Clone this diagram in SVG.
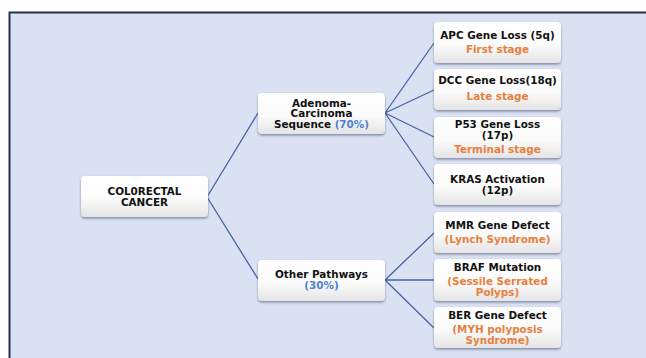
<svg xmlns="http://www.w3.org/2000/svg" width="646" height="358" viewBox="0 0 646 358">
<defs>
<linearGradient id="boxg" x1="0" y1="0" x2="0" y2="1">
<stop offset="0" stop-color="#ffffff"/>
<stop offset="0.55" stop-color="#fbfbfb"/>
<stop offset="1" stop-color="#e4e4e6"/>
</linearGradient>
<filter id="sh" x="-10%" y="-10%" width="120%" height="130%">
<feDropShadow dx="0" dy="1.5" stdDeviation="1.2" flood-color="#3a4560" flood-opacity="0.55"/>
</filter>
</defs>
<style>
.box{fill:url(#boxg);filter:url(#sh)}
.t{font-family:"DejaVu Sans",Verdana,sans-serif;font-weight:bold;font-size:10.4px;fill:#111;text-anchor:middle}
.o{fill:#e8803c}
.b{fill:#4f7fd4}
.c{fill:none;stroke:#4a62a6;stroke-width:1.3}
</style>
<rect x="0" y="0" width="646" height="358" fill="#ffffff"/>
<rect x="9.5" y="12.5" width="650" height="360" fill="#d9e1f3" stroke="#26334f" stroke-width="2"/>
<g id="connectors">
<path class="c" d="M207 197 L258 113 M207 197 L258 279"/>
<path class="c" d="M385 113 L434 43 M385 113 L434 90 M385 113 L434 137 M385 113 L434 184"/>
<path class="c" d="M385 280 L434 233 M385 280 L434 280 M385 280 L434 328"/>
</g>
<g id="colorectal">
<rect class="box" x="81" y="176" width="127" height="41" rx="4"/>
<text class="t" x="144.5" y="194.5">COL0RECTAL</text>
<text class="t" x="144.5" y="205.5">CANCER</text>
</g>
<g id="adenoma">
<rect class="box" x="258" y="93" width="127" height="41" rx="4"/>
<text class="t" x="321.5" y="106.5">Adenoma-</text>
<text class="t" x="321.5" y="117">Carcinoma</text>
<text class="t" x="321.5" y="127.5">Sequence <tspan class="b">(70%)</tspan></text>
</g>
<g id="other">
<rect class="box" x="258" y="260" width="127" height="41" rx="4"/>
<text class="t" x="321.5" y="277.5">Other Pathways</text>
<text class="t b" x="321.5" y="288.5">(30%)</text>
</g>
<g id="apc">
<rect class="box" x="434" y="22" width="127" height="41" rx="4"/>
<text class="t" x="497.5" y="38.5">APC Gene Loss (5q)</text>
<text class="t o" x="497.5" y="52.5">First stage</text>
</g>
<g id="dcc">
<rect class="box" x="434" y="69" width="127" height="41" rx="4"/>
<text class="t" x="497.5" y="83.5">DCC Gene Loss(18q)</text>
<text class="t o" x="497.5" y="99.5">Late stage</text>
</g>
<g id="p53">
<rect class="box" x="434" y="117" width="127" height="41" rx="4"/>
<text class="t" x="497.5" y="127.5">P53 Gene Loss</text>
<text class="t" x="497.5" y="138.5">(17p)</text>
<text class="t o" x="497.5" y="152.5">Terminal stage</text>
</g>
<g id="kras">
<rect class="box" x="434" y="164" width="127" height="41" rx="4"/>
<text class="t" x="497.5" y="182.5">KRAS Activation</text>
<text class="t" x="497.5" y="193.5">(12p)</text>
</g>
<g id="mmr">
<rect class="box" x="434" y="212" width="127" height="41" rx="4"/>
<text class="t" x="497.5" y="228.5">MMR Gene Defect</text>
<text class="t o" x="497.5" y="242.5">(Lynch Syndrome)</text>
</g>
<g id="braf">
<rect class="box" x="434" y="259" width="127" height="42" rx="4"/>
<text class="t" x="497.5" y="270.5">BRAF Mutation</text>
<text class="t o" x="497.5" y="284.5">(Sessile Serrated</text>
<text class="t o" x="497.5" y="295.5">Polyps)</text>
</g>
<g id="ber">
<rect class="box" x="434" y="307" width="127" height="41" rx="4"/>
<text class="t" x="497.5" y="318.5">BER Gene Defect</text>
<text class="t o" x="497.5" y="332.5">(MYH polyposis</text>
<text class="t o" x="497.5" y="343.5">Syndrome)</text>
</g>
</svg>
